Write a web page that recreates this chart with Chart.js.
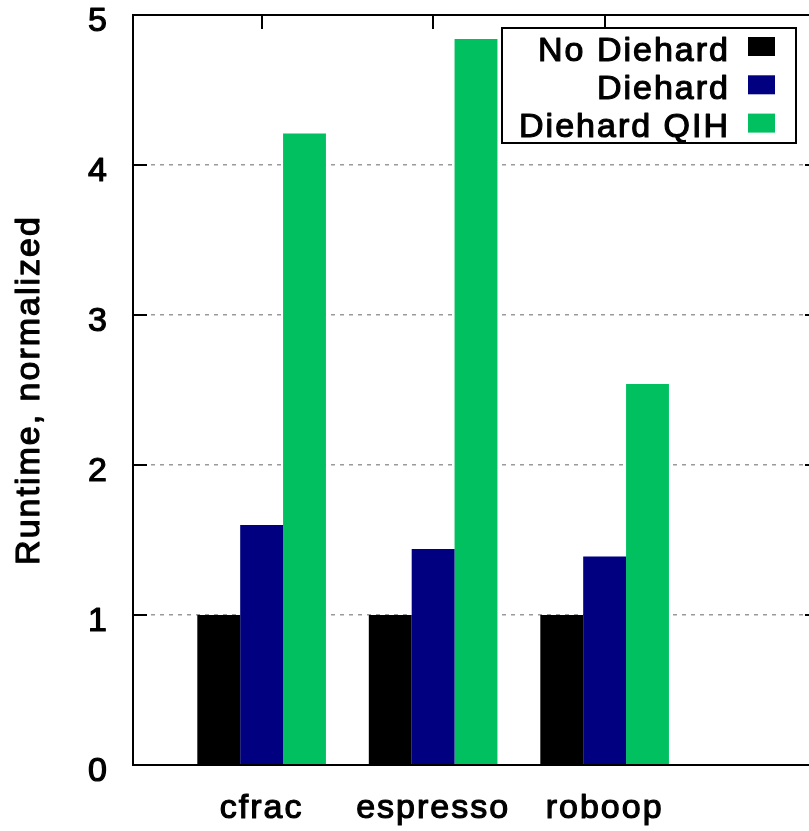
<!DOCTYPE html>
<html>
<head>
<meta charset="utf-8">
<script src="https://cdn.jsdelivr.net/npm/chart.js@4"></script>
<style>
  html, body { margin: 0; padding: 0; background: #ffffff; overflow: hidden; }
  #wrap { position: relative; width: 819px; height: 831px; }
</style>
</head>
<body>
<div id="wrap"><canvas id="c"></canvas></div>
<script>
// Benchmarks and runtimes, normalized to the run without DieHard
const categories = ['cfrac', 'espresso', 'roboop'];
const seriesNames = ['No Diehard', 'Diehard', 'Diehard QIH'];
const noDiehard = [1.00, 1.00, 1.00];
const diehard = [1.60, 1.44, 1.39];
const diehardQIH = [4.21, 4.84, 2.54];
const yTicks = [0, 1, 2, 3, 4, 5];
const yTitle = 'Runtime, normalized';
const seriesColors = ['#000000', '#000080', '#00c060'];

const FAMILY = "'Liberation Sans', Arial, Helvetica, sans-serif";
const textFont = { family: FAMILY, size: 34, weight: 'normal' };
const LETTER_SPACING = '2px';
const TEXT_STROKE = 1.2;

function points(values) {
  return values.map((v, i) => ({ x: i, y: v }));
}

// Wide letter spacing and rounded outline joins for every label
const spacingPlugin = {
  id: 'spacing',
  beforeLayout(chart) { chart.ctx.letterSpacing = LETTER_SPACING; },
  beforeDraw(chart) {
    chart.ctx.letterSpacing = LETTER_SPACING;
    chart.ctx.lineJoin = 'round';
  }
};

function heavyText(ctx, text, x, y) {
  ctx.strokeText(text, x, y);
  ctx.fillText(text, x, y);
}

// Frame, inward tick marks, axis title and the boxed legend, placed with the chart's scales
const framePlugin = {
  id: 'frame',
  beforeDatasetsDraw(chart) {
    const { ctx, chartArea: a, scales: { x, y } } = chart;
    const len = 14;
    ctx.save();
    ctx.strokeStyle = '#000000';
    ctx.lineWidth = 2;
    ctx.beginPath();
    yTicks.forEach(v => {
      const py = Math.round(y.getPixelForValue(v));
      ctx.moveTo(a.left, py); ctx.lineTo(a.left + len, py);
      ctx.moveTo(a.right, py); ctx.lineTo(a.right - len, py);
    });
    categories.forEach((c, i) => {
      const px = Math.round(x.getPixelForValue(i));
      ctx.moveTo(px, a.top); ctx.lineTo(px, a.top + len);
      ctx.moveTo(px, a.bottom); ctx.lineTo(px, a.bottom - len);
    });
    ctx.stroke();
    ctx.restore();
  },
  afterDatasetsDraw(chart) {
    const { ctx, chartArea: a, scales: { y } } = chart;
    ctx.save();
    ctx.strokeStyle = '#000000';
    ctx.lineWidth = 2;
    ctx.lineJoin = 'miter';
    ctx.strokeRect(a.left, a.top, a.right - a.left, a.bottom - a.top);

    // legend box in the upper right corner
    const boxW = 294, boxH = 115;
    const boxRight = a.right - 23, boxTop = a.top + 13;
    const boxLeft = boxRight - boxW;
    ctx.fillStyle = '#ffffff';
    ctx.fillRect(boxLeft, boxTop, boxW, boxH);
    ctx.strokeRect(boxLeft, boxTop, boxW, boxH);

    ctx.font = `${textFont.weight} ${textFont.size}px ${FAMILY}`;
    ctx.textAlign = 'right';
    ctx.textBaseline = 'alphabetic';
    ctx.lineJoin = 'round';
    ctx.lineWidth = TEXT_STROKE;
    chart.data.datasets.forEach((ds, i) => {
      const cy = boxTop + 18.5 + i * 38.3;
      ctx.fillStyle = ds.backgroundColor;
      ctx.fillRect(boxRight - 48, cy - 9.5, 27, 19);
      ctx.fillStyle = '#000000';
      heavyText(ctx, ds.label, boxRight - 66, cy + 14);
    });

    // rotated y-axis title, centred on the value axis
    ctx.save();
    ctx.translate(y.left + 30, (y.top + y.bottom) / 2);
    ctx.rotate(-Math.PI / 2);
    ctx.textAlign = 'center';
    ctx.textBaseline = 'middle';
    heavyText(ctx, yTitle, 0, 0);
    ctx.restore();

    ctx.restore();
  }
};

const seriesValues = [noDiehard, diehard, diehardQIH];

new Chart(document.getElementById('c'), {
  type: 'bar',
  data: {
    datasets: seriesNames.map((name, i) => ({
      label: name,
      data: points(seriesValues[i]),
      backgroundColor: seriesColors[i],
      borderWidth: 0,
      categoryPercentage: 0.75,
      barPercentage: 1.0
    }))
  },
  options: {
    responsive: true,
    maintainAspectRatio: false,
    animation: false,
    events: [],
    layout: { padding: { top: 15, left: 0, right: 0, bottom: 0 } },
    plugins: {
      legend: { display: false },
      tooltip: { enabled: false },
      title: { display: false }
    },
    scales: {
      x: {
        type: 'linear',
        min: -0.75,
        max: 3.25,
        offset: false,
        grid: { display: false, drawTicks: false, offset: false },
        border: { display: false },
        afterBuildTicks(scale) {
          scale.ticks = categories.map((c, i) => ({ value: i }));
        },
        afterFit(scale) {
          scale.height = 66;
          scale.paddingLeft = 0;
          scale.paddingRight = 0;
        },
        ticks: {
          autoSkip: false,
          maxRotation: 0,
          minRotation: 0,
          padding: 23,
          color: '#000000',
          textStrokeColor: '#000000',
          textStrokeWidth: TEXT_STROKE,
          font: textFont,
          callback: (v) => categories[v]
        }
      },
      y: {
        type: 'linear',
        min: 0,
        max: 5,
        afterBuildTicks(scale) {
          scale.ticks = yTicks.map(v => ({ value: v }));
        },
        afterFit(scale) {
          scale.width = 133;
          scale.paddingTop = 0;
          scale.paddingBottom = 0;
        },
        grid: {
          drawTicks: false,
          lineWidth: 1.5,
          color: (c) => (c.tick && c.tick.value > 0 && c.tick.value < 5) ? '#9a9a9a' : 'rgba(0,0,0,0)'
        },
        border: { display: false, dash: [4, 5] },
        ticks: {
          padding: 24,
          labelOffset: 7,
          color: '#000000',
          textStrokeColor: '#000000',
          textStrokeWidth: TEXT_STROKE,
          font: textFont,
          callback: (v) => String(v)
        },
        title: { display: false }
      }
    }
  },
  plugins: [spacingPlugin, framePlugin]
});
</script>
</body>
</html>
